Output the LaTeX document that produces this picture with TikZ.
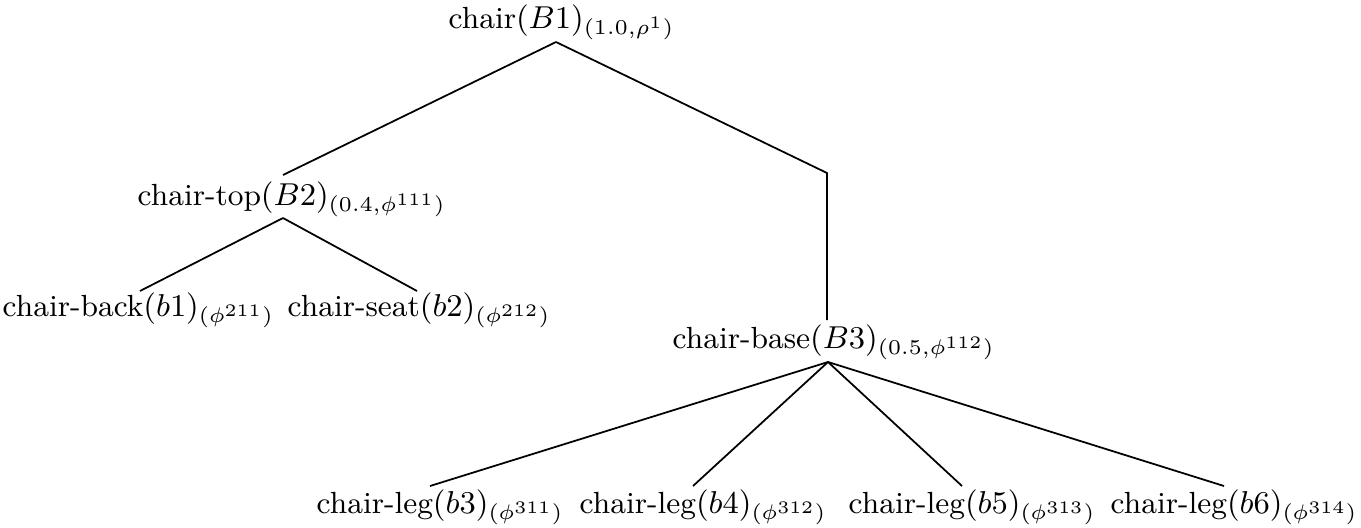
\documentclass[tikz,border=0pt]{standalone}
\usepackage{amsmath}
\begin{document}
\begin{tikzpicture}[
        x=0.01cm, y=-0.01cm,
        part/.style={anchor=base west, inner sep=0pt, font=\fontsize{8.7}{10}\selectfont},
        link/.style={line width=0.5pt}
    ]
    \useasboundingbox (0,0) rectangle (1361,527);
    \node (chair) [part] at (448,28) {chair$(B1)_{(1.0,\rho^1)}$};
    \node (top) [part] at (137,205) {chair-top$(B2)_{(0.4,\phi^{111})}$};
    \node (back) [part] at (2,316) {chair-back$(b1)_{(\phi^{211})}$};
    \node (seat) [part] at (287,316) {chair-seat$(b2)_{(\phi^{212})}$};
    \node (base) [part] at (672,348) {chair-base$(B3)_{(0.5,\phi^{112})}$};
    \node (leg1) [part] at (316,513) {chair-leg$(b3)_{(\phi^{311})}$};
    \node (leg2) [part] at (579,513) {chair-leg$(b4)_{(\phi^{312})}$};
    \node (leg3) [part] at (848,513) {chair-leg$(b5)_{(\phi^{313})}$};
    \node (leg4) [part] at (1110,513) {chair-leg$(b6)_{(\phi^{314})}$};
    \draw [link] ([shift={(108,14)}]chair.base west) -- ([shift={(146,-30)}]top.base west);
    \draw [link] ([shift={(108,14)}]chair.base west) -- ++(271,131) -- ([shift={(155,-28)}]base.base west);
    \draw [link] ([shift={(146,13)}]top.base west) -- ([shift={(138,-25)}]back.base west);
    \draw [link] ([shift={(146,13)}]top.base west) -- ([shift={(130,-25)}]seat.base west);
    \draw [link] ([shift={(156,14)}]base.base west) -- ([shift={(114,-27)}]leg1.base west);
    \draw [link] ([shift={(156,14)}]base.base west) -- ([shift={(114,-27)}]leg2.base west);
    \draw [link] ([shift={(156,14)}]base.base west) -- ([shift={(114,-27)}]leg3.base west);
    \draw [link] ([shift={(156,14)}]base.base west) -- ([shift={(114,-27)}]leg4.base west);
\end{tikzpicture}
\end{document}
